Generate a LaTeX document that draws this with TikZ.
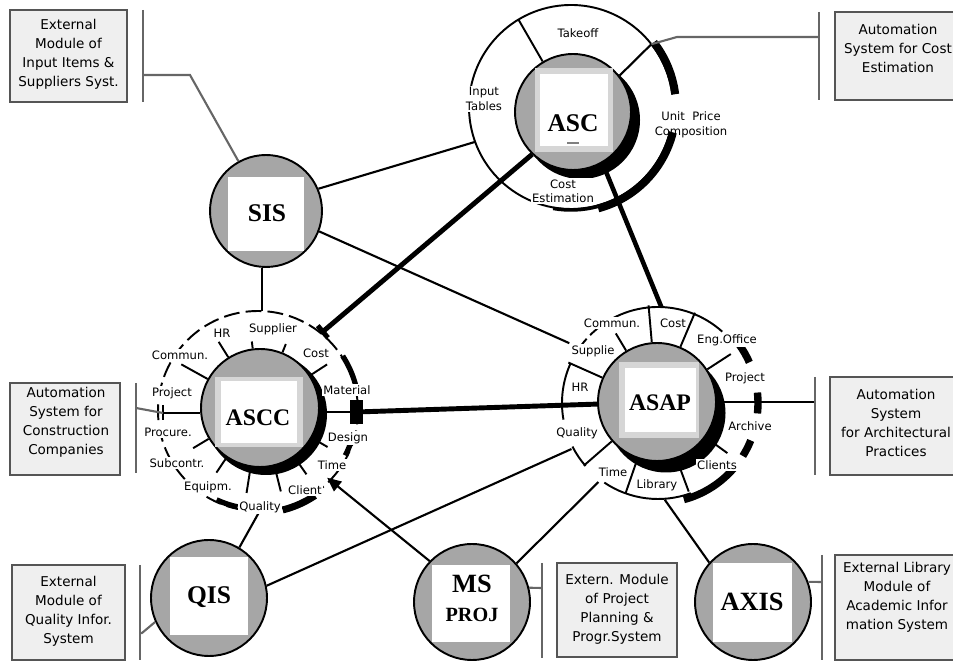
\documentclass[tikz,border=0pt]{standalone}
\usepackage{fontspec}
\setmainfont{DejaVu Sans}
\newfontfamily\hubfont{Liberation Serif}
\usetikzlibrary{calc,arrows.meta}
\definecolor{hubgray}{HTML}{A6A6A6}
\definecolor{sqgray}{HTML}{D6D6D6}
\definecolor{boxfill}{HTML}{EFEFEF}
\definecolor{boxline}{HTML}{555555}
\definecolor{barline}{HTML}{666666}
\begin{document}
\begin{tikzpicture}[x=0.02cm,y=0.02cm,
  hubc/.style={circle,draw=black,line width=1.1pt,fill=hubgray,minimum size=#1,inner sep=0pt},
  sqo/.style={rectangle,fill=sqgray,inner sep=0pt},
  sqi/.style={rectangle,fill=white,inner sep=0pt},
  hubt/.style={inner sep=0pt,font=\hubfont\bfseries\fontsize{14.5}{16}\selectfont},
  ringline/.style={line width=1.1pt},
  spoke/.style={line width=1.1pt},
  conn/.style={line width=1.2pt},
  heavy/.style={line width=2.8pt},
  shadowarc/.style={line width=4.5pt},
  lbl/.style={font=\fontsize{6.6}{8.2}\selectfont,inner sep=0.8pt,align=center},
  lblw/.style={lbl,fill=white},
  boxn/.style={rectangle,draw=boxline,line width=1.1pt,fill=boxfill,inner sep=0pt},
  boxt/.style={font=\fontsize{7.7}{10.8}\selectfont,align=center,inner sep=0pt},
  barl/.style={draw=barline,line width=1.2pt},
]
\useasboundingbox (0,0) rectangle (953,662);

% ---------- centres ----------
\coordinate (ascC) at (573,550);
\coordinate (ascR) at (571,555);
\coordinate (sisC) at (266,451);
\coordinate (asccC) at (260,254);
\coordinate (asccR) at (258,251);
\coordinate (asapC) at (657,260);
\coordinate (asapR) at (658,259);
\coordinate (qisC) at (209,64);
\coordinate (msC) at (472,60);
\coordinate (axisC) at (753,60);

% ---------- shadows ----------
\fill ($(ascC)+(8,-8)$) circle[radius=59];
\fill ($(asccC)+(6,-6)$) circle[radius=61];
\fill ($(asapC)+(9,-11)$) circle[radius=59.5];

% ---------- hub circles ----------
\node[hubc=2.32cm] (asc) at (ascC) {};
\node[hubc=2.24cm] (sis) at (sisC) {};
\node[hubc=2.36cm] (ascc) at (asccC) {};
\node[hubc=2.36cm] (asap) at (asapC) {};
\node[hubc=2.32cm] (qis) at (qisC) {};
\node[hubc=2.32cm] (msproj) at (msC) {};
\node[hubc=2.32cm] (axis) at (axisC) {};

% ---------- squares and names ----------
\node[sqo,minimum width=1.56cm,minimum height=1.68cm] (ascSq) at (574,552) {};
\node[sqi,minimum width=1.36cm,minimum height=1.44cm] (ascW) at (574,552) {};
\node[hubt] (ascT) at (573,539) {ASC};
\draw[gray,line width=0.6pt] (567,519) -- (579,519);

\node[sqo,minimum width=1.76cm,minimum height=1.4cm] (asccSq) at (259,250) {};
\node[sqi,minimum width=1.54cm,minimum height=1.26cm] (asccW) at (259,250) {};
\node[hubt,font=\hubfont\bfseries\fontsize{13.5}{15}\selectfont] (asccT) at (258,244) {ASCC};

\node[sqo,minimum width=1.6cm,minimum height=1.52cm] (asapSq) at (659,262) {};
\node[sqi,minimum width=1.42cm,minimum height=1.28cm] (asapW) at (660,262) {};
\node[hubt,font=\hubfont\bfseries\fontsize{13.5}{15}\selectfont] (asapT) at (660,259) {ASAP};

\node[sqi,minimum width=1.54cm,minimum height=1.48cm] (sisW) at (266,448) {};
\node[hubt] (sisT) at (267,449) {SIS};
\node[sqi,minimum width=1.56cm,minimum height=1.56cm] (qisW) at (209,66) {};
\node[hubt] (qisT) at (209,65) {QIS};
\node[sqi,minimum width=1.56cm,minimum height=1.54cm] (msW) at (471,58.5) {};
\node[hubt,font=\hubfont\bfseries\fontsize{15}{17}\selectfont] (msT1) at (472,78) {MS};
\node[hubt,font=\hubfont\bfseries\fontsize{11.5}{13}\selectfont] (msT2) at (472,47) {PROJ};
\node[sqi,minimum width=1.58cm,minimum height=1.58cm] (axisW) at (752.5,59.5) {};
\node[hubt,font=\hubfont\bfseries\fontsize{15}{17}\selectfont] (axisT) at (752,60) {AXIS};

% ---------- ASC ring ----------
\draw[ringline] ($(ascR)+(7:102)$) arc[start angle=7,end angle=346,radius=102];
\draw[shadowarc] ($(ascR)+(38:105)$) arc[start angle=38,end angle=7,radius=105];
\draw[shadowarc] ($(ascR)+(-14:105)$) arc[start angle=-14,end angle=-75,radius=105];
\draw[line width=2pt] ($(ascR)+(-75:103)$) arc[start angle=-75,end angle=-100,radius=103];
\draw[spoke] (asc.121) -- ($(ascR)+(121:102)$);

% ---------- ASCC ring ----------
\draw[ringline,dash pattern=on 9pt off 3.5pt] (asccR) circle[radius=100];
\foreach \a/\r in {151/90,122/78,97/67,68/69,33/80,211/78,236/78,261/86,284/86,305/81,330/78}
  \draw[spoke] (ascc.\a) -- ($(asccC)+(\a:\r)$);
\draw[line width=3pt] ($(asccR)+(33:101)$) arc[start angle=33,end angle=15,radius=101];
\draw[line width=3pt] ($(asccR)+(-20:98)$) arc[start angle=-20,end angle=-27,radius=98];
\draw[line width=4pt] ($(asccR)+(-56:102)$) arc[start angle=-56,end angle=-76,radius=102];
\draw[line width=3pt] ($(asccR)+(245:98)$) arc[start angle=245,end angle=258,radius=98];
\coordinate (asccRect) at (356.5,250);
\fill (350,238) rectangle (363,262);
\draw[spoke] (ascc.east |- asccRect) -- (asccRect);
\draw[spoke] (163,257) -- (163,242);

% ---------- ASAP ring ----------
\foreach \s/\e in {48/135,138/143,156/190,207/221,236/290}
  \draw[ringline] ($(asapR)+(\s:96)$) arc[start angle=\s,end angle=\e,radius=96];
\foreach \s/\e in {36/24,6/-6,-22/-32,-40/-75}
  \draw[line width=4.2pt] ($(asapR)+(\s:100)$) arc[start angle=\s,end angle=\e,radius=100];
\foreach \a/\r in {95/97,67/97,121/80,156/97,33/88,324/87,289.5/95,251/97,221/97}
  \draw[spoke] (asap.\a) -- ($(asapC)+(\a:\r)$);

% ---------- heavy connectors ----------
\draw[heavy,-{Bar[width=9pt]}] (asc.226) -- ($(asccR)+(51:100)$);
\draw[line width=2.6pt] (asc.300) -- ($(asapR)+(88:96)$);
\draw[heavy] (asccRect) -- (asap.182);

% ---------- thin connectors ----------
\coordinate (asccTop) at ($(asccR)+(90:100)$);
\draw[conn] (sis.23) -- ($(ascR)+(200:102)$);
\draw[conn] (sis.-21) -- ($(asapR)+(146:107)$);
\draw[conn] (sis.-94) -- (sis.-94 |- asccTop);
\draw[conn] (qis.59) -- ($(asccR)+(-89:100)$);
\draw[conn] (qis.12) -- ($(asapR)+(208:98)$);
\draw[conn,-{Triangle[length=8pt,width=7pt]}] (msproj.136) -- ($(asccR)+(-44:96)$);
\draw[conn] (msproj.41) -- ($(asapR)+(233:99)$);
\draw[conn] (axis.138) -- ($(asapR)+(-86:97)$);

% ---------- connectors to bars ----------
\coordinate (sisBend) at (190,587);  \coordinate (sisBar) at (143,587);
\coordinate (ascBend) at (677,625);  \coordinate (ascBar) at (819,625);
\coordinate (asccTick) at (163,249); \coordinate (asccBar) at (136,254);
\coordinate (asapBar) at (815,260);
\coordinate (qisBend) at (142,29);   \coordinate (qisBar) at (140,29);
\coordinate (msBar) at (542,74);
\coordinate (axisBar) at (822,80);
\draw[conn,draw=barline] (sis.119) -- (sisBend) -- (sisBar);
\draw[conn] (asc.38) -- ($(ascR)+(38:102)$);
\draw[conn,draw=barline] ($(ascR)+(38:102)$) -- (ascBend) -- (ascBar);
\draw[spoke] (ascc.west |- asccTick) -- (asccTick);
\draw[conn,draw=barline] (asccTick) -- (asccBar);
\draw[conn] (asap.east) -- (asapBar);
\draw[conn,draw=barline] (qis.204) -- (qisBend) -- (qisBar);
\draw[conn,draw=barline] (msproj.14) -- (msBar);
\draw[conn,draw=barline] (axis.20) -- (axisBar);

% ---------- bars ----------
\draw[barl] (143,652) -- (143,560);
\draw[barl] (819,650) -- (819,562);
\draw[barl] (136,279) -- (136,189);
\draw[barl] (815,285) -- (815,187);
\draw[barl] (140,97) -- (140,2);
\draw[barl] (542,99) -- (542,4);
\draw[barl] (822,107) -- (822,2);

% ---------- ASC labels ----------
\node[lbl] (lTake) at (578,629) {Takeoff};
\node[lblw] (lInput) at (484,563) {Input\\Tables};
\node[lbl] (lUnit) at (691,537) {Unit\ \ Price\\Composition};
\node[lblw] (lCostE) at (563,471) {Cost\\Estimation};

% ---------- ASCC labels ----------
\node[lblw] (cHR) at (222,329) {HR};
\node[lblw] (cSup) at (273,333) {Supplier};
\node[lblw] (cCom) at (180,307) {Commun.};
\node[lblw] (cCost) at (316,309) {Cost};
\node[lblw] (cProj) at (172,269) {Project};
\node[lblw] (cMat) at (347,272) {Material};
\node[lblw] (cProc) at (168,230) {Procure.};
\node[lblw] (cDes) at (348,224) {Design};
\node[lblw] (cSub) at (177,199) {Subcontr.};
\node[lblw] (cTime) at (332,197) {Time};
\node[lblw] (cEq) at (208,175) {Equipm.};
\node[lblw] (cCli) at (305,172) {Client};
\node[lblw] (cQual) at (260,155) {Quality};

% ---------- ASAP labels ----------
\node[lblw] (pCom) at (612,339) {Commun.};
\node[lblw] (pCost) at (673,339) {Cost};
\node[lblw] (pEng) at (727,322) {Eng.Office};
\node[lblw] (pSup) at (593,311) {Supplie};
\node[lblw] (pProj) at (745,284) {Project};
\node[lblw] (pHR) at (580,275) {HR};
\node[lblw] (pArc) at (750,236) {Archive};
\node[lblw] (pQual) at (577,229) {Quality};
\node[lblw] (pTime) at (613,190) {Time};
\node[lblw] (pCli) at (717,197) {Clients};
\node[lblw] (pLib) at (657,177) {Library};

% ---------- boxes ----------
\node[boxn,minimum width=2.34cm,minimum height=1.84cm] (bSIS) at (68.5,606) {};
\node[boxt] (tSIS) at (68.5,608) {External\\Module of\\Input Items \&\\Suppliers Syst.};
\node[boxn,minimum width=2.52cm,minimum height=1.76cm] (bASC) at (898,606) {};
\node[boxt] (tASC) at (898,614) {Automation\\System for Cost\\Estimation};
\node[boxn,minimum width=2.2cm,minimum height=1.84cm] (bASCC) at (65,233) {};
\node[boxt] (tASCC) at (66,240) {Automation\\System for\\Construction\\Companies};
\node[boxn,minimum width=2.64cm,minimum height=1.96cm] (bASAP) at (896,236) {};
\node[boxt] (tASAP) at (896,239.5) {Automation\\System\\for Architectural\\Practices};
\node[boxn,minimum width=2.26cm,minimum height=1.9cm] (bQIS) at (68.5,49.5) {};
\node[boxt] (tQIS) at (68.5,51) {External\\Module of\\Quality Infor.\\System};
\node[boxn,minimum width=2.4cm,minimum height=1.88cm] (bMS) at (617,52) {};
\node[boxt] (tMS) at (617,53) {Extern. Module\\of Project\\Planning \&\\Progr.System};
\node[boxn,minimum width=2.52cm,minimum height=2.1cm] (bAXIS) at (898,54.5) {};
\node[boxt] (tAXIS) at (897,64.5) {External Library\\Module of\\Academic Infor\\mation System};
\end{tikzpicture}
\end{document}
